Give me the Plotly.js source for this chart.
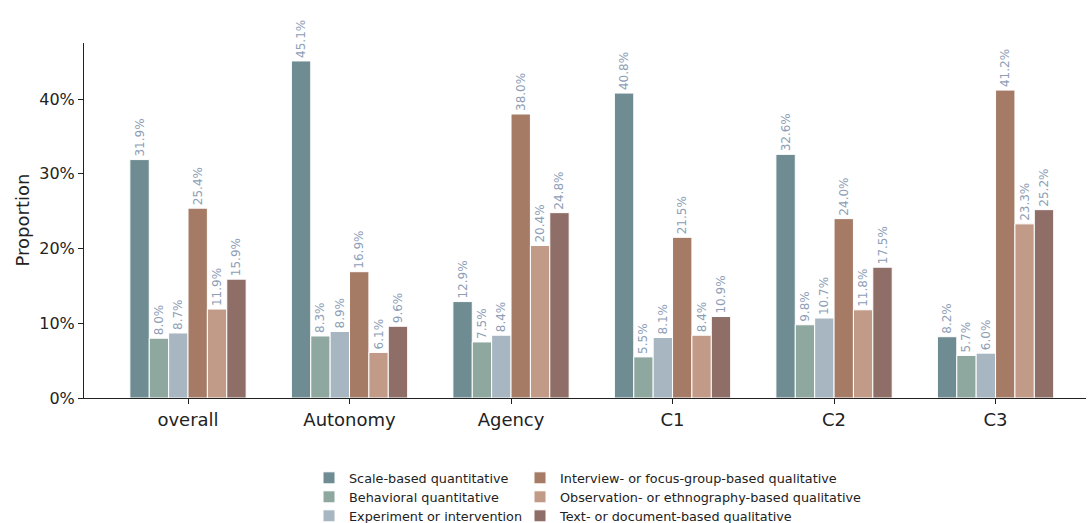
<!DOCTYPE html>
<html><head><meta charset="utf-8">
<script src="https://cdn.plot.ly/plotly-3.0.1.min.js"></script>
<style>body{margin:0;background:#fff}#c{width:1088px;height:523px}</style>
</head><body><div id="c"></div>
<script>
const categories = ["overall", "Autonomy", "Agency", "C1", "C2", "C3"];
const seriesNames = ["Scale-based quantitative", "Behavioral quantitative", "Experiment or intervention",
  "Interview- or focus-group-based qualitative", "Observation- or ethnography-based qualitative", "Text- or document-based qualitative"];
const scaleBased   = [31.9, 45.1, 12.9, 40.8, 32.6, 8.2];
const behavioral   = [8.0, 8.3, 7.5, 5.5, 9.8, 5.7];
const experiment   = [8.7, 8.9, 8.4, 8.1, 10.7, 6.0];
const interview    = [25.4, 16.9, 38.0, 21.5, 24.0, 41.2];
const observation  = [11.9, 6.1, 20.4, 8.4, 11.8, 23.3];
const textDoc      = [15.9, 9.6, 24.8, 10.9, 17.5, 25.2];
const yTickVals = [0, 10, 20, 30, 40];
const yTickText = ["0%", "10%", "20%", "30%", "40%"];

const colors = ["#6e8c92", "#8fa89f", "#a7b6c0", "#a67b66", "#c29a88", "#8e6e66"];
const series = [scaleBased, behavioral, experiment, interview, observation, textDoc];
const legendIds = ["legend", "legend2", "legend3", "legend4", "legend5", "legend6"];

const traces = series.map((vals, i) => ({
  type: "bar",
  name: seriesNames[i],
  x: categories,
  y: vals,
  marker: {color: colors[i], line: {color: "#ffffff", width: 1}},
  text: vals.map(v => v.toFixed(1) + "%"),
  texttemplate: "%{text}",
  textposition: "outside",
  textangle: -90,
  constraintext: "none",
  cliponaxis: false,
  textfont: {family: "DejaVu Sans", size: 12, color: "#8d9eb6"},
  hoverinfo: "skip",
  legend: legendIds[i]
}));

const legendBase = {
  orientation: "v", xref: "container", yref: "container",
  yanchor: "top", xanchor: "left",
  font: {family: "DejaVu Sans", size: 12.8, color: "#222"},
  bgcolor: "rgba(0,0,0,0)", borderwidth: 0, tracegroupgap: 0, itemwidth: 30
};
const legX = [309, 309, 309, 520, 520, 520];
const legTop = [463, 482, 501, 463, 482, 501];

const layout = {
  width: 1088, height: 523,
  margin: {l: 84, r: 2, t: 43, b: 125, autoexpand: false},
  paper_bgcolor: "#fff", plot_bgcolor: "#fff",
  barmode: "group", bargap: 0.28, bargroupgap: 0,
  font: {family: "DejaVu Sans", color: "#222"},
  showlegend: true,
  xaxis: {
    type: "category", range: [-0.644, 5.56],
    showline: true, linecolor: "#222", linewidth: 1,
    ticks: "outside", ticklen: 5, tickcolor: "#222",
    tickangle: 0,
    tickfont: {size: 18, family: "DejaVu Sans", color: "#222"},
    showgrid: false, zeroline: false, fixedrange: true
  },
  yaxis: {
    range: [0, 47.5], tickmode: "array", tickvals: yTickVals, ticktext: yTickText,
    showline: true, linecolor: "#222", linewidth: 1,
    ticks: "outside", ticklen: 5, tickcolor: "#222",
    tickfont: {size: 16, family: "DejaVu Sans", color: "#222"},
    showgrid: false, zeroline: false, fixedrange: true
  },
  annotations: [{
    text: "Proportion", xref: "paper", yref: "paper",
    x: (22 - 84) / 1002, y: 0.5, xanchor: "center", yanchor: "middle",
    textangle: -90, showarrow: false,
    font: {size: 18, family: "DejaVu Sans", color: "#222"}
  }]
};
legendIds.forEach((id, i) => {
  layout[id] = Object.assign({}, legendBase, {x: legX[i] / 1088, y: 1 - legTop[i] / 523});
});

Plotly.newPlot("c", traces, layout, {displayModeBar: false, staticPlot: true});
</script></body></html>
